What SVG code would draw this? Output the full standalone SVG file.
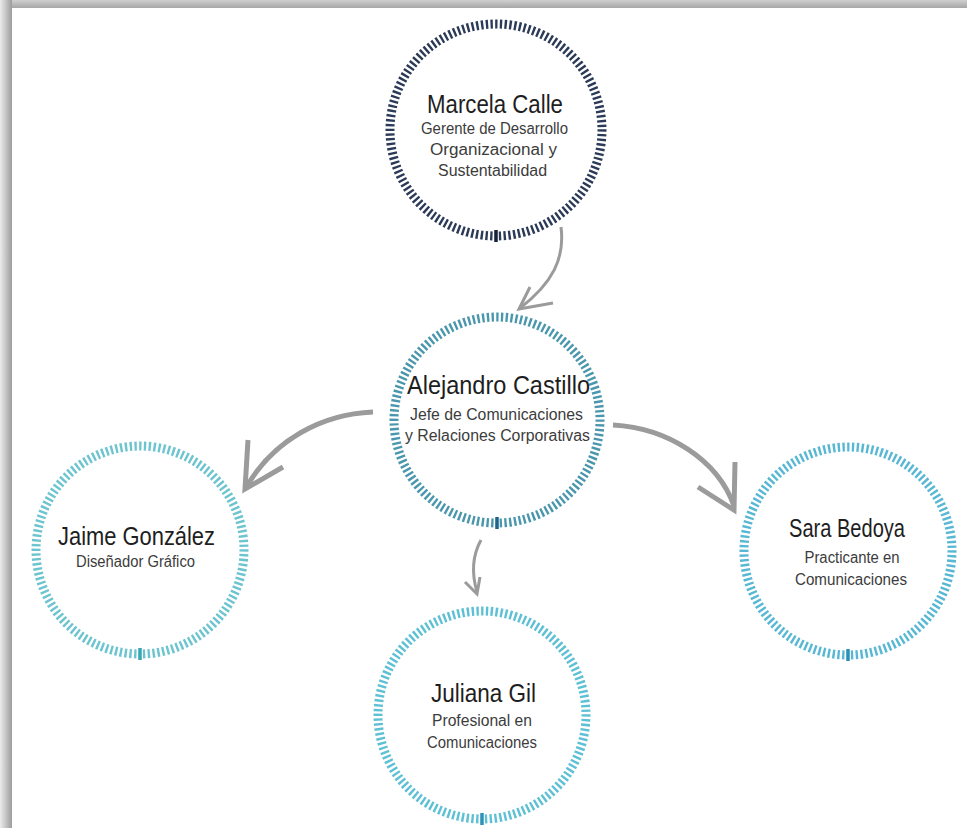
<svg xmlns="http://www.w3.org/2000/svg" width="967" height="828" viewBox="0 0 967 828">
<defs>
<linearGradient id="gTop" x1="0" y1="0" x2="0" y2="1"><stop offset="0" stop-color="#cfcfcf"/><stop offset="1" stop-color="#a6a6a6"/></linearGradient>
<linearGradient id="gLeft" x1="0" y1="0" x2="1" y2="0"><stop offset="0" stop-color="#ececec"/><stop offset="1" stop-color="#9c9c9c"/></linearGradient>
</defs>
<style>
.ring{fill:none;stroke-width:9}
.r106{stroke-dasharray:2.3787 2.3786;stroke-dashoffset:1.19}
.r103{stroke-dasharray:2.3793 2.3793;stroke-dashoffset:1.19}
.r104{stroke-dasharray:2.4024 2.4024;stroke-dashoffset:1.2}
.name{font-family:"Liberation Sans Narrow","Liberation Sans",Arial,sans-serif;font-size:25px;fill:#1e1e1e;text-anchor:middle}
.sub{font-family:"Liberation Sans Narrow","Liberation Sans",Arial,sans-serif;font-size:16px;fill:#3c3c3c;text-anchor:middle}
.conn{fill:none;stroke:#9b9b9b;stroke-linejoin:miter}
</style>
<rect x="0" y="0" width="967" height="828" fill="#ffffff"/>
<rect x="0" y="0" width="967" height="8" fill="url(#gTop)"/>
<rect x="0" y="0" width="12" height="828" fill="url(#gLeft)"/>

<g id="connectors">
<path class="conn" stroke-width="3" d="M561,227 C565,258 553,283 519,309"/>
<path class="conn" stroke-width="3" d="M530,287 L519,309 L553,303"/>
<path class="conn" stroke-width="5" d="M373,412 C322,414 274,440 247,486"/>
<path class="conn" stroke-width="5" d="M248,440 L245,489 L283,467"/>
<path class="conn" stroke-width="5" d="M613,425 C668,428 718,460 734,506"/>
<path class="conn" stroke-width="5" d="M735,462 L734,510 L698,487"/>
<path class="conn" stroke-width="3" d="M481,540 C471,558 472,575 477,592"/>
<path class="conn" stroke-width="3" d="M465,582 L477,594 L480,577"/>
</g>

<g id="marcela">
<path class="ring r106" stroke="#2b3a57" d="M496,236 A106,106 0 1 1 496,24 A106,106 0 1 1 496,236"/>
<rect x="494.25" y="230" width="3.5" height="12" fill="#16223a"/>
<text class="name" x="495" y="113" textLength="136" lengthAdjust="spacingAndGlyphs">Marcela Calle</text>
<text class="sub" x="494.5" y="134" textLength="147" lengthAdjust="spacingAndGlyphs">Gerente de Desarrollo</text>
<text class="sub" x="493.5" y="155" textLength="127" lengthAdjust="spacingAndGlyphs">Organizacional y</text>
<text class="sub" x="492.5" y="176" textLength="109" lengthAdjust="spacingAndGlyphs">Sustentabilidad</text>
</g>

<g id="alejandro">
<path class="ring r103" stroke="#4a97ad" d="M497,523 A103,103 0 1 1 497,317 A103,103 0 1 1 497,523"/>
<rect x="495.25" y="517" width="3.5" height="12" fill="#1d6488"/>
<text class="name" x="498.5" y="394" textLength="183" lengthAdjust="spacingAndGlyphs">Alejandro Castillo</text>
<text class="sub" x="496.5" y="420" textLength="173" lengthAdjust="spacingAndGlyphs">Jefe de Comunicaciones</text>
<text class="sub" x="497.5" y="441" textLength="185" lengthAdjust="spacingAndGlyphs">y Relaciones Corporativas</text>
</g>

<g id="jaime">
<path class="ring r104" stroke="#6cc4cf" d="M140,654 A104,104 0 1 1 140,446 A104,104 0 1 1 140,654"/>
<rect x="138.25" y="648" width="3.5" height="12" fill="#3aa5b3"/>
<text class="name" x="136.5" y="545" textLength="157" lengthAdjust="spacingAndGlyphs">Jaime González</text>
<text class="sub" x="135.5" y="567" textLength="119" lengthAdjust="spacingAndGlyphs">Diseñador Gráfico</text>
</g>

<g id="sara">
<path class="ring r104" stroke="#58b8d4" d="M848,655 A104,104 0 1 1 848,447 A104,104 0 1 1 848,655"/>
<rect x="846.25" y="649" width="3.5" height="12" fill="#2f8fb8"/>
<text class="name" x="847" y="537" textLength="116" lengthAdjust="spacingAndGlyphs">Sara Bedoya</text>
<text class="sub" x="852" y="563" textLength="95" lengthAdjust="spacingAndGlyphs">Practicante en</text>
<text class="sub" x="851" y="585" textLength="112" lengthAdjust="spacingAndGlyphs">Comunicaciones</text>
</g>

<g id="juliana">
<path class="ring r104" stroke="#5ec0d4" d="M482,819 A104,104 0 1 1 482,611 A104,104 0 1 1 482,819"/>
<rect x="480.25" y="813" width="3.5" height="12" fill="#2f93b8"/>
<text class="name" x="483.5" y="702" textLength="105" lengthAdjust="spacingAndGlyphs">Juliana Gil</text>
<text class="sub" x="482" y="726" textLength="100" lengthAdjust="spacingAndGlyphs">Profesional en</text>
<text class="sub" x="482" y="748" textLength="110" lengthAdjust="spacingAndGlyphs">Comunicaciones</text>
</g>
</svg>
